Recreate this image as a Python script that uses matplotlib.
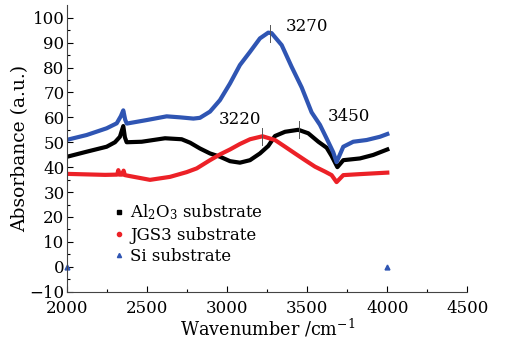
import matplotlib
matplotlib.use("Agg")
import matplotlib.pyplot as plt
from matplotlib.lines import Line2D

plt.rcParams['font.family'] = ['DejaVu Serif']
plt.rcParams['mathtext.fontset'] = 'dejavuserif'

# Al2O3 substrate
al_wn = [2000, 2121, 2246, 2298, 2329, 2350, 2360, 2371, 2465, 2611, 2715, 2768, 2829, 2892,
         2954, 3017, 3079, 3142, 3204, 3256, 3298, 3361, 3444, 3506, 3569, 3621, 3652, 3688,
         3725, 3829, 3912, 4000]
al_abs = [44.2, 46.2, 48.2, 50.0, 52.2, 56.5, 52.0, 50.0, 50.2, 51.6, 51.2, 49.8, 47.5, 45.5,
          44.2, 42.4, 41.8, 42.8, 45.5, 48.5, 52.5, 54.2, 55.0, 53.6, 50.2, 47.8, 44.5, 40.0,
          42.8, 43.5, 44.9, 47.1]

# JGS3 substrate
jgs_wn = [2000, 2236, 2312, 2319, 2326, 2344, 2352, 2360, 2392, 2517, 2642, 2746, 2809, 2892,
          2954, 3017, 3079, 3142, 3220, 3298, 3361, 3423, 3486, 3548, 3611, 3652, 3683, 3725,
          3829, 4000]
jgs_abs = [37.3, 36.9, 37.0, 38.8, 37.0, 37.0, 38.6, 36.8, 36.4, 34.9, 36.1, 38.0, 39.5, 42.8,
           45.1, 47.1, 49.3, 51.2, 52.4, 50.9, 48.2, 45.5, 42.8, 40.2, 38.2, 36.8, 34.0, 36.8,
           37.2, 37.8]

# Si substrate
si_wn = [2000, 2121, 2246, 2309, 2335, 2350, 2362, 2372, 2496, 2621, 2704, 2788, 2829, 2892,
         2954, 3017, 3079, 3142, 3204, 3256, 3277, 3340, 3402, 3465, 3496, 3527, 3579, 3621,
         3662, 3683, 3725, 3787, 3871, 3954, 4000]
si_abs = [51.0, 52.9, 55.6, 57.6, 60.5, 62.8, 59.0, 57.5, 58.9, 60.4, 60.0, 59.5, 59.8, 62.3,
          66.9, 73.6, 81.0, 86.3, 91.7, 94.0, 93.8, 89.0, 80.3, 72.0, 67.0, 62.0, 57.0, 51.5,
          46.0, 42.0, 48.2, 50.2, 50.9, 52.2, 53.3]
si_extra_wn = [2000, 4000]
si_extra_abs = [0, 0]

peak_labels = ['3270', '3220', '3450']
peak_wn = [3270, 3220, 3450]
peak_abs = [93.8, 52.4, 55.0]
label_wn = [3500, 3080, 3760]
label_abs = [96.3, 59.3, 60.5]

c_black = '#000000'
c_red = '#ec2127'
c_blue = '#2f55b3'

fig = plt.figure(figsize=(5.07, 3.41), dpi=100)
ax = fig.add_axes([0.1327, 0.1446, 0.789, 0.840])

ax.plot(al_wn, al_abs, color=c_black, lw=3, solid_joinstyle='round')
ax.plot(jgs_wn, jgs_abs, color=c_red, lw=3, solid_joinstyle='round')
ax.plot(si_wn, si_abs, color=c_blue, lw=3, solid_joinstyle='round')
ax.plot(si_extra_wn, si_extra_abs, '^', color=c_blue, ms=3.5, clip_on=False)

# peak markers
for wx, wy in zip(peak_wn, peak_abs):
    ax.plot([wx, wx], [wy - 3.4, wy + 3.4], color='#555555', lw=0.7)
for lab, tx, ty in zip(peak_labels, label_wn, label_abs):
    ax.text(tx, ty, lab, fontsize=12, ha='center', va='center')

ax.set_xlim(2000, 4500)
ax.set_ylim(-10, 105)
ax.set_xticks(range(2000, 4501, 500))
ax.set_xticks(range(2250, 4500, 500), minor=True)
ax.set_yticks(range(-10, 101, 10))
ax.set_yticks(range(-5, 105, 10), minor=True)
ax.tick_params(which='both', direction='in', labelsize=12, width=0.8)
ax.tick_params(which='major', length=4)
ax.tick_params(which='minor', length=2.5)
ax.tick_params(axis='x', pad=6)
ax.tick_params(axis='y', pad=2)
ax.spines['top'].set_visible(False)
ax.spines['right'].set_visible(False)
for s in ['left', 'bottom']:
    ax.spines[s].set_color('#444444')

ax.set_xlabel('Wavenumber /cm$^{-1}$', fontsize=12.7, labelpad=0)
ax.set_ylabel('Absorbance (a.u.)', fontsize=13.5, labelpad=0)

handles = [Line2D([], [], marker='s', color=c_black, ls='none', ms=3),
           Line2D([], [], marker='o', color=c_red, ls='none', ms=3),
           Line2D([], [], marker='^', color=c_blue, ls='none', ms=3)]
ax.legend(handles, ['Al$_2$O$_3$ substrate', 'JGS3 substrate', 'Si substrate'],
          loc='upper left', bbox_to_anchor=(0.095, 0.34), frameon=False, fontsize=12,
          handlelength=0.6, handletextpad=0.4, labelspacing=0.25, borderpad=0)

fig.savefig('out.png', dpi=100)
